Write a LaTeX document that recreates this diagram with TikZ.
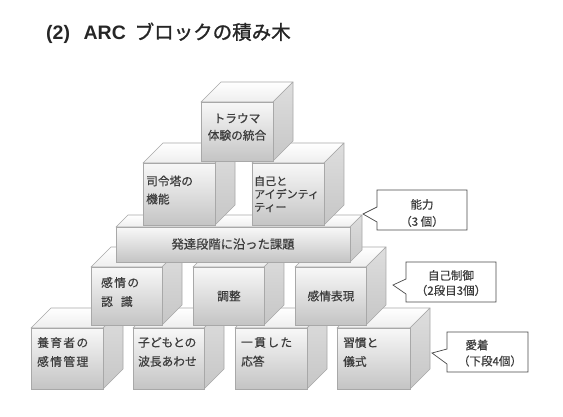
\documentclass[tikz,border=0pt]{standalone}
\usepackage{fontspec}
\setmainfont{Noto Sans CJK JP}[AutoFakeBold=0.6]
\newfontfamily\ttlfont{Noto Sans CJK JP}[AutoFakeBold=1.2]
\newfontfamily\ttllat{Liberation Sans}
\newfontfamily\spfont{Noto Sans CJK JP}[LetterSpace=12, AutoFakeBold=0.6]
\definecolor{edgecol}{HTML}{A8A8A8}
\definecolor{txtcol}{HTML}{3C3C3C}
\definecolor{frontA}{HTML}{F8F8F8}
\definecolor{frontB}{HTML}{C4C4C4}
\definecolor{sideA}{HTML}{DEDEDE}
\definecolor{sideB}{HTML}{C6C6C6}
\definecolor{topA}{HTML}{FFFFFF}
\definecolor{topB}{HTML}{EEEEEE}
\definecolor{callcol}{HTML}{4A4A4A}
\newcommand\blk[5]{%
  \draw[draw=edgecol, line width=0.6pt, top color=topA, bottom color=topB, line join=round]
    (#1,#2) -- (#1+#5,#2-#5) -- (#3+#5,#2-#5) -- (#3,#2) -- cycle;
  \draw[draw=edgecol, line width=0.6pt, top color=sideA, bottom color=sideB, line join=round]
    (#3,#2) -- (#3+#5,#2-#5) -- (#3+#5,#4-#5) -- (#3,#4) -- cycle;
  \draw[draw=edgecol, line width=0.6pt, top color=frontA, bottom color=frontB]
    (#1,#2) rectangle (#3,#4);
}
\newcommand\callout[6]{% left top right bottom tipx tipy
  \draw[draw=callcol, fill=white, line width=0.7pt, line join=miter]
    (#1,#2) -- (#3,#2) -- (#3,#4) -- (#1,#4) -- (#1,#2+32) -- (#5,#6) -- (#1,#2+17) -- cycle;
}
\tikzset{
  ctxt/.style={inner sep=0pt, text=txtcol, font=\bfseries\fontsize{11.7}{18}\selectfont},
  cl/.style={ctxt, anchor=west, align=left},
  cc/.style={ctxt, align=center},
  calltxt/.style={inner sep=0pt, text=txtcol, align=center, font=\bfseries\fontsize{11.5}{17}\selectfont}
}
\begin{document}
\begin{tikzpicture}[x=1pt, y=-1pt]
\fill[white] (0,0) rectangle (563,416);
\useasboundingbox (0,0) rectangle (563,416);

\node[anchor=west, inner sep=0pt, text=black!85] (title) at (46,33)
  {\fontsize{19.5}{22}\selectfont\ttllat\bfseries (2)\hspace{0.7em}ARC\hspace{0.45em}\ttlfont\bfseries ブロックの積み木};

% bottom row
\blk{31}{328}{103}{389}{20}
\node[cl, font=\spfont\bfseries\fontsize{11.7}{19}\selectfont] (b1) at (37,352) {養育者の\\感情管理};
\blk{133}{328}{204}{389}{20}
\node[cl, font=\bfseries\fontsize{11.7}{19}\selectfont] (b2) at (138,352) {子どもとの\\波長あわせ};
\blk{235}{328}{307}{389}{20}
\node[cl, font=\bfseries\fontsize{11.7}{19}\selectfont] (b3) at (241,352) {{\spfont\bfseries 一貫した}\\応答};
\blk{337}{328}{410}{389}{20}
\node[cl, font=\bfseries\fontsize{11.7}{19}\selectfont] (b4) at (343,352) {習慣と\\儀式};

% row 3
\blk{91}{267}{162}{325}{20}
\node[cl, font=\spfont\bfseries\fontsize{11.7}{19}\selectfont] (r1) at (101,292) {感情の\\認\hspace{8pt}識};
\blk{193}{267}{264}{325}{20}
\node[cc] (r2) at (229,296) {調整};
\blk{295}{267}{366}{325}{20}
\node[cc] (r3) at (331,296) {感情表現};

% slab
\blk{116}{227}{350}{262}{12}
\node[cc, font=\bfseries\fontsize{12.3}{15}\selectfont] (s) at (233,244) {発達段階に沿った課題};

% middle row
\blk{143}{163}{215}{225}{20}
\node[cl] (m1) at (146,190) {司令塔の\\機能};
\blk{252}{163}{324}{225}{20}
\node[cl, font=\bfseries\fontsize{11}{13}\selectfont] (m2) at (254,194) {自己と\\アイデンティ\\ティー};

% top
\blk{201}{102}{273}{161}{20}
\node[cc, font=\bfseries\fontsize{11.7}{17}\selectfont] (t1) at (237,127) {トラウマ\\体験の統合};

% callouts
\callout{377}{190}{467}{230}{363}{214}
\node[calltxt] (c1) at (422,213) {能力\\（3 個）};
\callout{406}{262}{496}{302}{393}{285}
\node[calltxt, font=\bfseries\fontsize{11.5}{15}\selectfont] (c2) at (451,283) {自己制御\\（2段目3個）};
\callout{447}{332}{528}{372}{432}{353}
\node[calltxt] (c3a) at (477,345) {愛着};
\node[calltxt] (c3b) at (490,361) {（下段4個）};
\end{tikzpicture}
\end{document}
